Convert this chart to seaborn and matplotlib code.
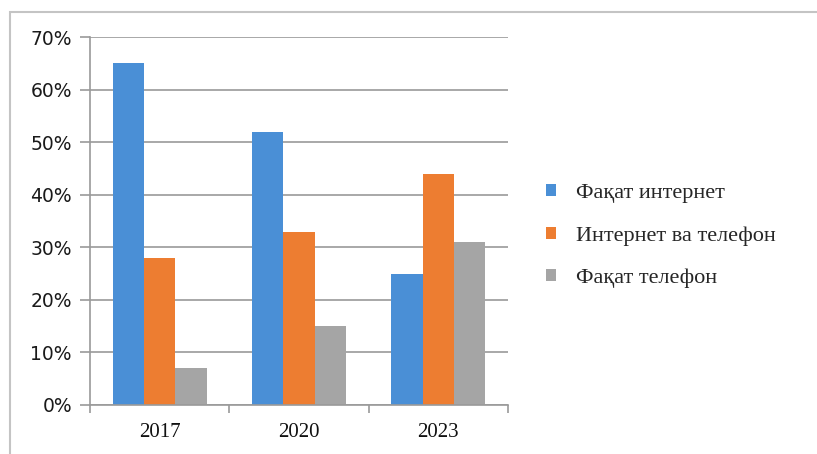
import matplotlib
matplotlib.use("Agg")
import numpy as np
import pandas as pd
import seaborn as sns
from matplotlib import pyplot as plt
from matplotlib.patches import Rectangle
from matplotlib.ticker import PercentFormatter, FixedLocator

years = ["2017", "2020", "2023"]
series = ["Фақат интернет", "Интернет ва телефон", "Фақат телефон"]
only_internet = [0.65, 0.52, 0.25]
internet_phone = [0.28, 0.33, 0.44]
only_phone = [0.07, 0.15, 0.31]
colors = ["#4a8fd6", "#ed7d31", "#a5a5a5"]

df = pd.DataFrame({
    "year": years * 3,
    "kind": [series[0]] * 3 + [series[1]] * 3 + [series[2]] * 3,
    "share": only_internet + internet_phone + only_phone,
})

sns.set_style("white")
fig = plt.figure(figsize=(8.17, 4.54), dpi=100)
ax = fig.add_axes([90 / 817, 1 - 405 / 454, (508 - 90) / 817, (405 - 37) / 454])

sns.barplot(data=df, x="year", y="share", hue="kind", order=years, hue_order=series,
            palette=colors, width=0.675, saturation=1, ax=ax, errorbar=None, linewidth=0)

grid_c = "#9a9a9a"
ax.set_ylim(0, 0.7)
ax.set_xlim(-0.5, 2.5)
ax.set_yticks(np.arange(0, 0.71, 0.1))
ax.yaxis.set_major_formatter(PercentFormatter(1.0, decimals=0))
ax.grid(axis="y", color=grid_c, linewidth=1.2)
ax.set_axisbelow(True)
for s in ["top", "right"]:
    ax.spines[s].set_visible(False)
for s in ["left", "bottom"]:
    ax.spines[s].set_color(grid_c)
    ax.spines[s].set_linewidth(1.2)
ax.tick_params(axis="y", length=7, color=grid_c, width=1.2, left=True, pad=6, labelsize=13.5)
ax.tick_params(axis="x", which="major", length=0, pad=13)
ax.xaxis.set_minor_locator(FixedLocator([-0.5, 0.5, 1.5, 2.5]))
ax.tick_params(axis="x", which="minor", length=6, color=grid_c, width=1.2, bottom=True)
for lab in ax.get_yticklabels():
    lab.set_family("DejaVu Sans")
    lab.set_color("#1a1a1a")
for lab in ax.get_xticklabels():
    lab.set_family("Liberation Serif")
    lab.set_fontsize(15)
    lab.set_color("#111111")
ax.set_xlabel("")
ax.set_ylabel("")

handles, labels = ax.get_legend_handles_labels()
ax.legend_.remove()
fig.legend(handles, labels, loc="center left", bbox_to_anchor=(526 / 817, 1 - 236 / 454),
           frameon=False, handlelength=0.45, handleheight=0.45, labelspacing=1.05,
           handletextpad=0.9, prop={"family": "Liberation Serif", "size": 16})

fig.patches.append(Rectangle((10 / 817, -0.05), 1.1, 1.05 - 12 / 454, transform=fig.transFigure,
                             fill=False, edgecolor="#c4c4c4", linewidth=1.5))

fig.savefig("out.png", dpi=100)
